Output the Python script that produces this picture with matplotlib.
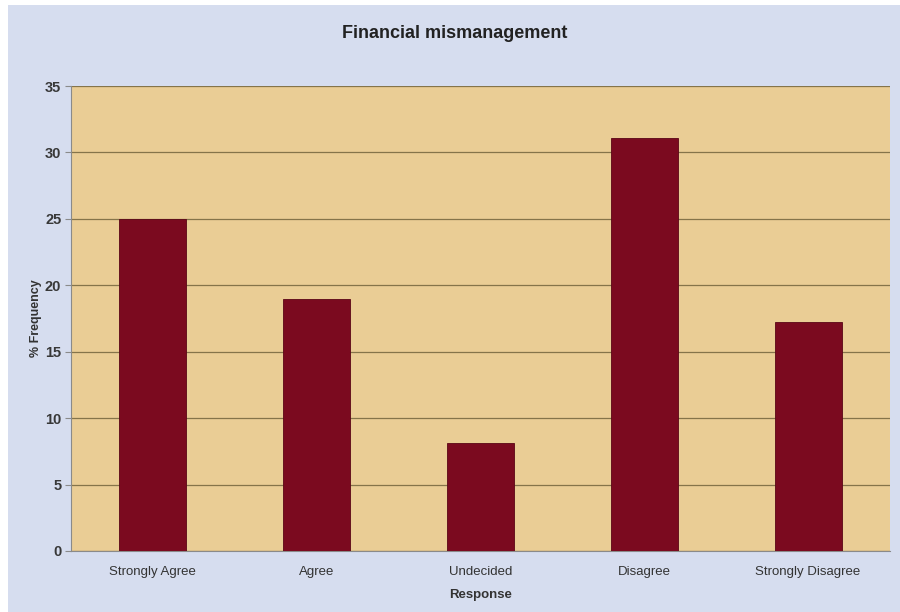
import matplotlib
matplotlib.use("Agg")
import matplotlib.pyplot as plt
from matplotlib.patches import Rectangle

categories = ["Strongly Agree", "Agree", "Undecided", "Disagree", "Strongly Disagree"]
frequency = [25.0, 19.0, 8.1, 31.1, 17.2]
y_ticks = [0, 5, 10, 15, 20, 25, 30, 35]

plt.rcParams["font.family"] = ["Liberation Sans", "DejaVu Sans"]

fig = plt.figure(figsize=(9, 6.12), dpi=100, facecolor="white")

# chart area panel (light blue)
fig.patches.append(Rectangle((8 / 900, 0), 1 - 8 / 900, 1 - 5 / 612,
                             transform=fig.transFigure, facecolor="#d6ddef",
                             edgecolor="none", zorder=-5))

ax = fig.add_axes([71 / 900, 1 - 551 / 612, (890 - 71) / 900, (551 - 86) / 612])
ax.set_zorder(2)
ax.set_facecolor("#eacd95")

x = range(len(categories))
ax.bar(x, frequency, width=0.41, color="#7b0a1f", edgecolor="#5a0515",
       linewidth=0.6, zorder=3)

ax.set_xlim(-0.5, len(categories) - 0.5)
ax.set_ylim(0, 35)
ax.set_yticks(y_ticks)
ax.set_xticks(list(x))
ax.set_xticklabels(categories)

ax.yaxis.grid(True, color="#85744a", linewidth=0.9, zorder=1)
ax.set_axisbelow(True)

for side in ["top", "right"]:
    ax.spines[side].set_visible(False)
ax.spines["left"].set_color("#8a8a8a")
ax.spines["bottom"].set_color("#8a8a8a")

ax.tick_params(axis="y", length=4, color="#8a8a8a", labelsize=10.5,
               labelcolor="#383838", pad=3)
ax.tick_params(axis="x", length=0, labelsize=9.5, labelcolor="#333333", pad=11)
for lab in ax.get_yticklabels():
    lab.set_fontweight("bold")

ax.set_ylabel("% Frequency", fontsize=9, fontweight="bold", color="#333333")
ax.yaxis.set_label_coords(-0.036, 0.5)
ax.set_xlabel("Response", fontsize=9.5, fontweight="bold", color="#333333",
              labelpad=8)

fig.text(455 / 900, 1 - 33 / 612, "Financial mismanagement", ha="center",
         va="center", fontsize=13, fontweight="bold", color="#222222")

fig.savefig("out.png", dpi=100, facecolor=fig.get_facecolor())
